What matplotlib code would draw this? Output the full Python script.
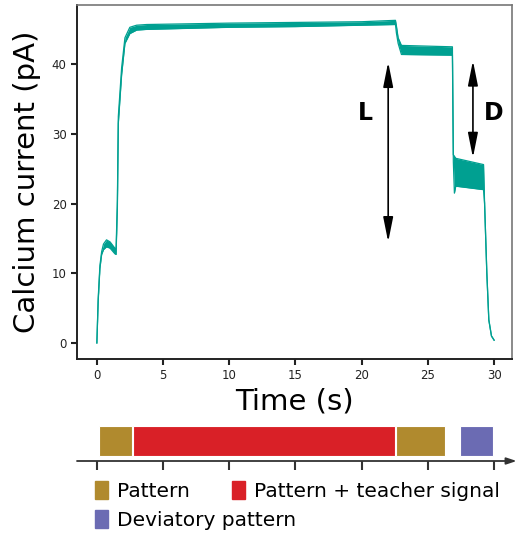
import numpy as np
import matplotlib
matplotlib.use("Agg")
import matplotlib.pyplot as plt
from matplotlib.patches import Patch

# calcium trace: time (s), lower / upper edge of the noisy trace (pA)
t_pts = [0, 0.1, 0.23, 0.36, 0.5, 0.73, 1.0, 1.36, 1.45, 1.55, 1.62, 1.87, 2.12, 2.49,
         3.0, 3.76, 10, 15, 20, 22.55, 22.62, 22.75, 23.0, 26.85, 26.92, 27.0, 27.1,
         29.2, 29.28, 29.45, 29.6, 29.8, 30.0]
lo_pts = [0, 6.0, 10.7, 12.7, 13.4, 13.8, 13.6, 12.8, 12.7, 19.5, 31.5, 38.5, 43.0, 44.4,
          44.9, 45.0, 45.3, 45.4, 45.6, 45.7, 44.5, 43.0, 41.4, 41.3, 26.0, 21.5, 22.5,
          22.0, 20.0, 10.0, 3.3, 1.0, 0.4]
hi_pts = [0, 6.4, 11.1, 13.1, 14.2, 14.8, 14.5, 13.6, 13.5, 20.5, 32.5, 39.5, 43.8, 45.3,
          45.6, 45.7, 45.9, 46.0, 46.1, 46.3, 45.5, 43.8, 42.7, 42.5, 27.0, 26.8, 26.5,
          25.6, 20.0, 10.0, 3.3, 1.0, 0.4]

xticks = [0, 5, 10, 15, 20, 25, 30]
yticks = [0, 10, 20, 30, 40]

# stimulus protocol: (start, end) in seconds
pattern_1 = (0.15, 2.65)
teacher = (2.7, 22.5)
pattern_2 = (22.6, 26.3)
deviatory = (27.4, 29.9)

# arrows: x position, bottom, top (pA)
arrow_L = (22.0, 14.5, 40.3)
arrow_D = (28.4, 26.6, 40.5)

teal = '#00a091'
brown = '#b08a2e'
red = '#d92027'
blue = '#6b6bb3'

W, H = 519, 539
fig = plt.figure(figsize=(W / 100, H / 100), dpi=100)

ax = fig.add_axes([77 / W, 1 - 359 / H, (512 - 77) / W, (359 - 5) / H])
ax.fill_between(t_pts, lo_pts, hi_pts, color=teal, lw=0)
ax.plot(t_pts, lo_pts, color=teal, lw=0.9)
ax.plot(t_pts, hi_pts, color=teal, lw=0.9)

ax.set_xlim(-1.5, 31.35)
ax.set_ylim(-2.3, 48.5)
ax.set_xticks(xticks)
ax.set_yticks(yticks)
ax.tick_params(direction='out', length=4, width=1.5, labelsize=8.5, colors='#222222')
for s in ['left', 'bottom']:
    ax.spines[s].set_color('#222222')
    ax.spines[s].set_linewidth(1.4)
for s in ['top', 'right']:
    ax.spines[s].set_color('#777777')
    ax.spines[s].set_linewidth(1.2)

ax.set_ylabel('Calcium current (pA)', fontsize=21, labelpad=8)
ax.set_xlabel('Time (s)', fontsize=21, labelpad=4)

for (x, y0, y1), lab, tx in [(arrow_L, 'L', 20.3), (arrow_D, 'D', 30.0)]:
    ax.annotate('', xy=(x, y0), xytext=(x, y1),
                arrowprops=dict(arrowstyle='<|-|>,head_length=1.5,head_width=0.3',
                                color='black', lw=1.2, shrinkA=0, shrinkB=0))
    ax.text(tx, 33, lab, fontsize=17, fontweight='bold', ha='center', va='center')

# timeline under the plot
ax2 = fig.add_axes([77 / W, 1 - 475 / H, (512 - 77) / W, 55 / H])
ax2.set_xlim(ax.get_xlim())
ax2.set_ylim(-14, 41)
ax2.axis('off')
for (a, b), c in [(pattern_1, brown), (teacher, red), (pattern_2, brown), (deviatory, blue)]:
    ax2.bar(a, 30, width=b - a, bottom=5, align='edge', color=c, edgecolor='white', lw=0.8)
ax2.annotate('', xy=(31.7, 0), xytext=(-1.5, 0),
             arrowprops=dict(arrowstyle='-|>,head_length=0.6,head_width=0.2',
                             color='#333333', lw=1.3, shrinkA=0, shrinkB=0),
             annotation_clip=False)
ax2.vlines(xticks, -9, 0, color='#333333', lw=1.5)

fig.legend(handles=[Patch(color=brown, label='Pattern'),
                    Patch(color=blue, label='Deviatory pattern')],
           loc='upper left', bbox_to_anchor=(95 / W, 1 - 481 / H), frameon=False,
           fontsize=14.5, handlelength=0.65, handleheight=1.0, handletextpad=0.45,
           labelspacing=0.45, borderpad=0, borderaxespad=0)
fig.legend(handles=[Patch(color=red, label='Pattern + teacher signal')],
           loc='upper left', bbox_to_anchor=(232 / W, 1 - 481 / H), frameon=False,
           fontsize=14.5, handlelength=0.65, handleheight=1.0, handletextpad=0.45,
           borderpad=0, borderaxespad=0)

fig.savefig('out.png', dpi=100)
